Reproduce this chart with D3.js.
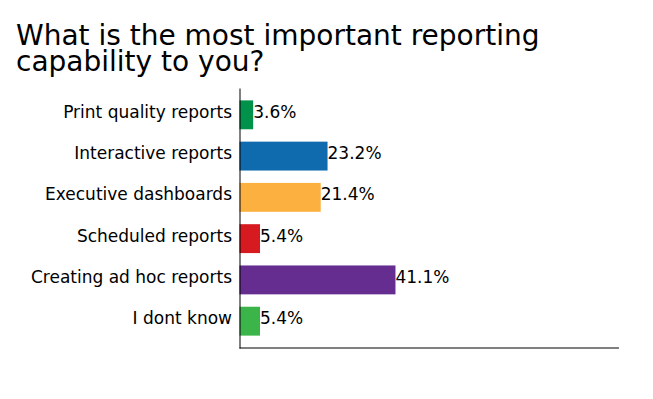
<!DOCTYPE html>
<html>
<head>
<meta charset="utf-8">
<script src="https://cdn.jsdelivr.net/npm/d3@7"></script>
<style>
  body { margin: 0; background: #fff; }
  text { font-family: "DejaVu Sans", sans-serif; fill: #000; }
</style>
</head>
<body>
<div id="chart"></div>
<script>
var title_lines = ["What is the most important reporting", "capability to you?"]
var categories = ["Print quality reports", "Interactive reports", "Executive dashboards",
                  "Scheduled reports", "Creating ad hoc reports", "I dont know"]
var values = [3.6, 23.2, 21.4, 5.4, 41.1, 5.4]
var colors = ["#00914b", "#0f6aae", "#fbb040", "#d71920", "#652d8f", "#3bb54a"]

var width = 653, height = 399
var margin = {top: 88, right: 34, bottom: 51, left: 239.5}

var svg = d3.select("#chart").append("svg")
    .attr("width", width)
    .attr("height", height)

svg.selectAll(".title")
    .data(title_lines)
    .enter().append("text")
    .attr("class", "title")
    .attr("x", 16)
    .attr("y", function(d, i){ return 44.5 + i * 26 })
    .style("font-size", "28px")
    .text(function(d){ return d })

var x = d3.scaleLinear()
    .domain([0, 100])
    .range([margin.left, width - margin.right])

var y = d3.scaleBand()
    .domain(categories)
    .range([margin.top, height - margin.bottom])
    .padding(0.3)

var rows = categories.map(function(c, i){ return {cat: c, val: values[i], color: colors[i]} })

svg.selectAll(".bar")
    .data(rows)
    .enter().append("rect")
    .attr("class", "bar")
    .attr("x", x(0))
    .attr("y", function(d){ return y(d.cat) })
    .attr("width", function(d){ return x(d.val) - x(0) })
    .attr("height", y.bandwidth())
    .attr("fill", function(d){ return d.color })

svg.selectAll(".val")
    .data(rows)
    .enter().append("text")
    .attr("class", "val")
    .attr("x", function(d){ return x(d.val) })
    .attr("y", function(d){ return y(d.cat) + y.bandwidth() / 2 })
    .attr("dy", "0.18em")
    .style("font-size", "17px")
    .text(function(d){ return d.val.toFixed(1) + "%" })

var yAxis = d3.axisLeft(y).tickSize(0).tickPadding(7.5)
svg.append("g")
    .attr("transform", "translate(" + x(0) + ",0)")
    .call(yAxis)
    .call(function(g){
      g.select(".domain").attr("stroke", "#000").attr("stroke-width", 1)
      g.selectAll("text").attr("dy", "0.18em").style("font-size", "17px").attr("fill", "#000")
    })

// bottom baseline, no ticks
svg.append("line")
    .attr("x1", x(0)).attr("x2", x(100))
    .attr("y1", height - margin.bottom).attr("y2", height - margin.bottom)
    .attr("stroke", "#000")
</script>
</body>
</html>
